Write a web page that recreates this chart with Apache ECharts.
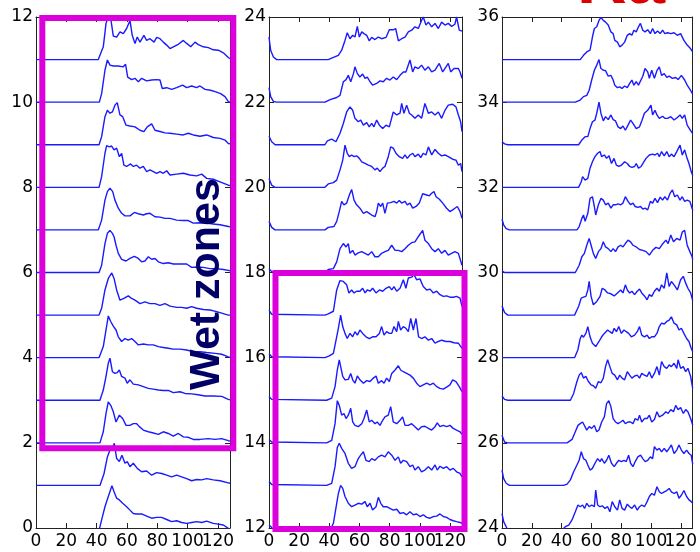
<!DOCTYPE html>
<html>
<head>
<meta charset="utf-8">
<script src="https://cdn.jsdelivr.net/npm/echarts@6/dist/echarts.min.js"></script>
<style>
  html, body { margin: 0; padding: 0; background: #fff; }
  #chart { width: 700px; height: 552px; }
</style>
</head>
<body>
<div id="chart"></div>
<script>
// Stacked profiles: each trace is [position, signal above its own offset line]
const xTicks = [0, 20, 40, 60, 80, 100, 120];
const xMax = 128;
const panelRanges = [[0, 12], [12, 24], [24, 36]];

// ---- left column (offsets 0..11) ----
const t0 = [[0,-0.05],[41.5,-0.05],[42.2,0.03],[43.3,0.19],[45.5,0.5],[47.7,0.74],[48.8,0.77],[50.1,0.99],[51.5,0.85],[53.2,0.7],[55,0.66],[57.2,0.58],[59.8,0.5],[62,0.42],[64.2,0.34],[66.4,0.33],[69.7,0.33],[73,0.28],[76.3,0.23],[79.6,0.25],[82.9,0.25],[86.2,0.2],[89.5,0.15],[92.8,0.17],[96.1,0.13],[99.4,0.11],[102.7,0.13],[106,0.15],[109.3,0.13],[112.6,0.16],[117,0.11],[120.3,0.09],[123.6,0.07],[126.9,-0.01],[128,-0.03]];
const t1 = [[0,0],[42.2,0],[44.9,0.28],[47.1,0.67],[48.8,0.83],[50.6,0.89],[51.7,0.99],[53.2,0.63],[55,0.56],[56.7,0.71],[58.7,0.52],[60.2,0.56],[62,0.44],[64.2,0.52],[66.8,0.4],[69.7,0.32],[73,0.34],[76.3,0.24],[79.6,0.3],[82.9,0.28],[86.2,0.24],[89.5,0.2],[92.8,0.24],[96.1,0.2],[99.4,0.16],[102.7,0.11],[106,0.14],[109.3,0.13],[112.6,0.16],[117,0.13],[121.4,0.11],[126.9,0.06],[128,0.05]];
const t2 = [[0,0],[42.2,0],[44.4,0.26],[46.2,0.69],[47.7,0.96],[49.3,0.88],[51,0.73],[52.8,0.49],[55,0.65],[57.2,0.57],[59.4,0.41],[62,0.41],[64.2,0.45],[66.4,0.45],[68.2,0.38],[70.8,0.3],[74.1,0.26],[77.4,0.23],[80.7,0.2],[84,0.26],[87.3,0.22],[90.6,0.16],[93.9,0.22],[97.2,0.14],[100.5,0.13],[103.8,0.08],[108.2,0.08],[113.7,0.1],[118.1,0.08],[122.5,0.1],[126.9,0.05],[128,0.04]];
const t3 = [[0,0],[42.2,0],[44.4,0.24],[46.2,0.56],[47.7,0.87],[48.8,0.99],[50.4,0.67],[52.1,0.63],[53.6,0.65],[55,0.71],[56.5,0.56],[58.7,0.52],[60.2,0.4],[62,0.48],[64.2,0.38],[67.5,0.36],[70.8,0.32],[74.1,0.28],[77.4,0.26],[80.7,0.24],[84,0.23],[87.3,0.23],[90.6,0.18],[95,0.2],[98.3,0.16],[102.7,0.15],[106.9,0.13],[111.5,0.1],[117,0.1],[122.5,0.09],[126.9,0.02],[128,0.01]];
const t4 = [[0,0],[41.6,0],[44.4,0.26],[46.2,0.65],[47.7,0.98],[49.3,0.85],[51,0.74],[52.8,0.65],[54.3,0.49],[56.5,0.38],[58.7,0.45],[60.9,0.41],[63.1,0.45],[65.3,0.38],[67.5,0.3],[70.8,0.32],[74.1,0.3],[77.4,0.3],[80.7,0.26],[84,0.24],[87.3,0.22],[90.6,0.2],[95,0.2],[99.4,0.18],[103.8,0.14],[108.2,0.14],[112.6,0.12],[118.1,0.1],[122.5,0.08],[126.9,0.02],[128,0.01]];
const t5 = [[0,0],[41.6,0],[43.3,0.16],[45.5,0.59],[47.7,0.86],[50,0.99],[51.5,0.86],[53.2,0.59],[55.4,0.35],[58,0.39],[60.9,0.45],[63.1,0.39],[65.3,0.35],[68.6,0.27],[71.9,0.31],[75.2,0.27],[78.5,0.27],[81.8,0.23],[85.1,0.27],[88.4,0.21],[92.8,0.18],[96.1,0.18],[99.4,0.16],[102.7,0.2],[106,0.16],[110.4,0.13],[114.8,0.12],[119.2,0.08],[126.9,0],[128,0]];
const t6 = [[0,0],[41.6,0],[43.3,0.17],[45.5,0.68],[47.1,0.92],[48.8,0.99],[50.4,0.92],[51.5,0.84],[52.8,0.64],[54.3,0.45],[56.5,0.31],[59.4,0.27],[62,0.33],[64.9,0.38],[67.5,0.33],[69.7,0.25],[71.9,0.27],[74.1,0.37],[76.3,0.31],[78.5,0.33],[80.7,0.25],[84,0.21],[87.3,0.23],[90.6,0.2],[95,0.2],[99.4,0.2],[102.7,0.12],[106,0.13],[110.4,0.12],[114.8,0.09],[119.2,0.09],[123.6,0.07],[126.9,0.05],[128,0.04]];
const t7 = [[0,0],[41.1,0],[43.3,0.23],[45.5,0.7],[47.1,0.9],[48.8,0.98],[50.6,0.9],[52.1,0.7],[54.3,0.51],[56.5,0.39],[58.7,0.33],[62,0.33],[64.9,0.41],[67.5,0.38],[70.8,0.35],[73,0.38],[75.2,0.39],[78.5,0.31],[81.8,0.3],[85.1,0.27],[88.4,0.27],[92.8,0.23],[97.2,0.22],[100.5,0.22],[103.8,0.16],[108.2,0.17],[112.6,0.16],[117,0.14],[121.4,0.12],[126.9,0.08],[128,0.07]];
const t8 = [[0,0],[41.6,0],[43.3,0.25],[45.5,0.8],[46.6,0.98],[48.4,0.95],[49.9,0.97],[51.5,0.88],[53.2,0.92],[55,0.72],[56.5,0.8],[58,0.52],[59.8,0.49],[62.4,0.55],[64.2,0.49],[66.4,0.52],[68.6,0.45],[70.8,0.49],[73,0.37],[75.2,0.41],[77.4,0.37],[79.6,0.33],[81.8,0.37],[84,0.33],[86.2,0.39],[88.4,0.29],[92.8,0.31],[97.2,0.33],[101.6,0.29],[106,0.27],[109.3,0.31],[112.6,0.21],[117,0.19],[121.4,0.13],[126.9,0.05],[128,0.04]];
const t9 = [[0,0],[41.6,0],[43.3,0.19],[45.5,0.66],[47.1,0.81],[48.8,0.74],[50.4,0.77],[52.1,0.93],[53.6,0.99],[55.4,0.7],[57.2,0.66],[59.4,0.46],[62,0.44],[65.3,0.42],[68.6,0.34],[71.2,0.31],[73.4,0.42],[76.3,0.49],[78.5,0.34],[81.8,0.31],[85.1,0.28],[88.4,0.27],[92.8,0.25],[97.2,0.23],[100.5,0.27],[103.8,0.23],[108.2,0.2],[112.6,0.23],[117,0.17],[121.4,0.15],[124.7,0.11],[126.9,0.03],[128,0.02]];
const t10 = [[0,0],[41.8,0],[43.3,0.2],[45.5,0.75],[47.1,0.99],[48.8,0.87],[51,0.85],[54.3,0.85],[57.6,0.83],[59.1,0.89],[60.5,0.59],[63.1,0.53],[65.3,0.56],[67.5,0.48],[69.7,0.56],[73,0.5],[76.3,0.52],[79.6,0.53],[81.8,0.52],[83.3,0.32],[86.2,0.34],[89.5,0.3],[92.8,0.34],[96.7,0.4],[99.4,0.34],[102.7,0.38],[106,0.34],[108.2,0.38],[111.5,0.3],[115.2,0.28],[118.7,0.24],[121.8,0.2],[124.7,0.13],[126.9,0.01],[128,0]];
const t11 = [[0,0],[41.1,0],[44.4,0.3],[46.2,0.85],[47.7,1.0],[49.5,0.92],[51,0.55],[53.2,0.53],[55.4,0.65],[57.6,0.61],[59.8,0.73],[62,0.92],[63.5,0.57],[65.3,0.38],[66.8,0.53],[68.6,0.41],[71.2,0.57],[73,0.45],[75.2,0.49],[77.9,0.41],[79.6,0.52],[81.8,0.49],[84,0.41],[86.2,0.34],[88.4,0.26],[90.6,0.3],[93.9,0.36],[97.2,0.45],[99.4,0.38],[102.1,0.3],[104.9,0.41],[107.1,0.35],[110.4,0.3],[113.7,0.28],[117,0.23],[120.3,0.22],[123.6,0.16],[126.9,0.05],[128,0.02]];

// ---- middle column (offsets 12..23) ----
const t12 = [[0,0.07],[1.8,0.01],[2.9,-0.05],[40.5,-0.05],[42.7,0.11],[44.9,0.58],[46,0.81],[47.5,1.0],[48.9,0.93],[50.4,0.74],[52.6,0.58],[54.8,0.5],[57,0.54],[59.2,0.58],[61.5,0.56],[63.7,0.62],[65.2,0.5],[67,0.58],[68.7,0.42],[71,0.5],[72.5,0.72],[74.1,0.58],[75.8,0.5],[78,0.5],[80.2,0.46],[82.4,0.42],[84.7,0.44],[86.9,0.34],[89.1,0.36],[91.3,0.31],[93.5,0.38],[95.7,0.31],[97.9,0.33],[100.1,0.27],[102.3,0.31],[104.6,0.25],[106.8,0.23],[109,0.27],[111.2,0.28],[113.4,0.33],[115.6,0.27],[117.8,0.25],[120,0.2],[122.2,0.17],[124.4,0.15],[126.7,0.13],[128,0.11]];
const t13 = [[0,0.09],[1.8,0.02],[2.9,0],[38.2,0],[41.6,0.05],[43.8,0.44],[45.3,0.89],[46.6,0.99],[48.2,0.87],[50.4,0.75],[52.6,0.52],[54.8,0.4],[57,0.44],[59.2,0.63],[60.8,0.71],[62.6,0.79],[64.3,0.59],[66.5,0.56],[68.1,0.63],[70.3,0.59],[72.5,0.67],[74.7,0.71],[76.9,0.67],[79.1,0.79],[81.4,0.71],[83.6,0.59],[85.8,0.67],[87.3,0.52],[89.1,0.59],[91.3,0.56],[93.5,0.44],[95.3,0.48],[96.8,0.36],[99,0.44],[101.2,0.32],[103.4,0.36],[105.7,0.44],[107.9,0.36],[110.1,0.48],[111.6,0.36],[113.4,0.45],[115.6,0.4],[117.8,0.44],[120,0.36],[122.2,0.4],[124.4,0.32],[126.7,0.28],[128,0.2]];
const t14 = [[0,0.08],[1.8,0.02],[2.9,0],[38.2,0],[41.6,0.06],[43.8,0.45],[45.3,0.99],[46.6,0.88],[48.2,0.65],[49.7,0.69],[51.1,0.57],[52.6,0.65],[54.2,0.81],[55.5,0.49],[57,0.41],[59.2,0.38],[61.5,0.45],[63,0.57],[64.8,0.77],[66.5,0.49],[68.1,0.53],[70.3,0.45],[71.8,0.49],[73.6,0.41],[75.4,0.53],[76.9,0.61],[79.1,0.65],[80.7,0.85],[82.4,0.49],[84.7,0.45],[86.9,0.53],[88.6,0.61],[90.2,0.41],[92.4,0.41],[94.6,0.45],[96.8,0.38],[99,0.3],[101.2,0.38],[103.4,0.39],[105.7,0.34],[107.9,0.3],[110.1,0.38],[111.6,0.47],[113.4,0.38],[115.6,0.41],[117.8,0.38],[120,0.41],[122.2,0.34],[124.4,0.3],[126.7,0.26],[128,0.2]];
const t15 = [[0,0.09],[1.8,0.02],[2.9,0],[38.2,0],[41.6,0.05],[43.8,0.32],[45.3,0.71],[46.6,0.95],[47.5,0.91],[48.9,0.56],[50.4,0.48],[52.6,0.49],[54.2,0.63],[55.5,0.48],[57,0.4],[58.6,0.57],[60.3,0.48],[62.6,0.4],[64.8,0.46],[67,0.44],[69.2,0.52],[71,0.57],[72.5,0.4],[74.7,0.46],[76.3,0.4],[78,0.52],[79.8,0.44],[81.4,0.63],[83.6,0.71],[85.8,0.81],[87.3,0.71],[89.1,0.67],[91.3,0.63],[93.5,0.59],[95.7,0.52],[97.9,0.4],[100.1,0.32],[102.3,0.36],[104.6,0.4],[106.8,0.36],[109,0.4],[111.2,0.32],[113.4,0.28],[115.6,0.26],[117.8,0.31],[120,0.36],[121.8,0.48],[124,0.44],[126.2,0.32],[128,0.2]];
const t16 = [[0,0.09],[1.8,0.02],[2.9,0],[37.1,0],[40,0.04],[42.7,0.1],[44.9,0.49],[46.2,0.73],[47.5,1.0],[48.9,0.73],[50.4,0.57],[51.9,0.45],[53.7,0.57],[55.5,0.49],[57,0.61],[58.6,0.53],[60.3,0.65],[62.1,0.57],[64.3,0.49],[66.5,0.45],[68.7,0.49],[71,0.49],[73.2,0.57],[74.7,0.73],[76.3,0.53],[78,0.61],[79.8,0.57],[81.4,0.57],[82.9,0.73],[84.7,0.61],[85.8,0.85],[87.3,0.65],[89.1,0.73],[90.8,0.69],[92.4,0.61],[94,0.92],[95.7,0.65],[97.5,0.92],[99.2,0.49],[101.2,0.45],[103.4,0.49],[105.7,0.41],[107.9,0.45],[110.1,0.34],[112.3,0.38],[114.5,0.41],[117.4,0.38],[120,0.38],[122.7,0.35],[125.6,0.34],[128,0.22]];
const t17 = [[0,0.11],[1.8,0.02],[2.9,0],[37.1,0],[39.3,0.03],[42.7,0.09],[44.9,0.59],[47.1,0.81],[49.3,0.79],[51.5,0.71],[53,0.52],[54.8,0.59],[56.4,0.52],[58.1,0.56],[60.3,0.56],[62.1,0.63],[63.7,0.52],[65.2,0.59],[67,0.56],[68.7,0.63],[71,0.52],[73.2,0.59],[75.4,0.56],[77.6,0.63],[79.8,0.67],[81.4,0.59],[82.9,0.67],[84.7,0.56],[86.9,0.63],[89.1,0.83],[90.8,0.63],[92.4,0.87],[94.6,0.89],[96.2,0.95],[97.9,0.83],[100.1,0.85],[102.3,0.67],[104.6,0.59],[106.8,0.61],[109,0.52],[111.2,0.56],[113.4,0.48],[115.6,0.44],[117.8,0.45],[120,0.42],[122.2,0.42],[124.4,0.44],[126.7,0.4],[128,0.2]];
const t18 = [[0,0.09],[1.8,0.02],[2.9,0],[37.1,0],[39.3,0.07],[42.7,0.09],[44.9,0.25],[47.1,0.56],[49.3,0.68],[51.1,0.6],[52.6,0.68],[53.7,0.45],[55.5,0.52],[57,0.41],[59.2,0.46],[61.5,0.49],[63.7,0.45],[65.9,0.41],[68.1,0.49],[70.3,0.37],[72.5,0.37],[74.7,0.45],[76.9,0.49],[79.1,0.52],[81.4,0.64],[83.6,0.52],[85.8,0.52],[88,0.49],[90.2,0.56],[92.4,0.64],[94.6,0.7],[96.8,0.72],[99,0.84],[100.1,0.8],[101.9,0.99],[103.4,0.76],[105.7,0.68],[107.9,0.56],[110.1,0.49],[112.3,0.56],[114.5,0.45],[116.7,0.52],[118.9,0.41],[121.1,0.45],[123.3,0.49],[125.6,0.45],[128,0.17]];
const t19 = [[0,0.2],[1.8,0.06],[4,0],[37.1,0],[39.3,0.06],[43.1,0.08],[44.9,0.2],[46.6,0.43],[48.2,0.67],[49.7,0.59],[51.5,0.63],[53.3,0.82],[54.8,0.95],[56.4,0.7],[58.1,0.59],[60.3,0.51],[62.6,0.39],[64.8,0.43],[66.5,0.39],[68.1,0.35],[70.3,0.31],[71.4,0.43],[72.5,0.63],[74.1,0.55],[75.4,0.63],[76.9,0.39],[78.5,0.63],[80.7,0.64],[82.9,0.67],[84.7,0.63],[86.4,0.69],[88,0.63],[90.2,0.67],[91.7,0.59],[93.5,0.63],[95.3,0.51],[97.5,0.55],[99.7,0.63],[101.9,0.85],[104.6,0.82],[106.3,0.8],[107.9,0.86],[109.4,0.9],[110.8,0.78],[113,0.72],[115.2,0.63],[117.8,0.51],[120,0.43],[121.8,0.47],[123.3,0.51],[124.9,0.55],[126.7,0.43],[128,0.27]];
const t20 = [[0,0.21],[1.8,0.05],[4,0],[37.1,0],[39.3,0.08],[42.7,0.11],[44.9,0.17],[47.1,0.41],[48.9,0.64],[50.4,0.99],[51.9,0.8],[53.3,0.72],[54.8,0.76],[56.4,0.72],[58.1,0.74],[59.9,0.68],[61.5,0.6],[63.7,0.56],[65.9,0.52],[68.1,0.49],[70.3,0.41],[71.8,0.45],[73.6,0.37],[75.4,0.45],[76.9,0.49],[79.1,0.72],[80.7,0.95],[82.4,0.92],[84.2,0.8],[86.4,0.72],[88.6,0.68],[90.2,0.76],[91.7,0.68],[93.5,0.76],[95.3,0.8],[96.8,0.72],[99,0.78],[100.6,0.7],[102.3,0.8],[104.1,0.76],[105.7,0.95],[107.9,0.76],[110.1,0.89],[112.3,0.8],[114.5,0.74],[116.7,0.76],[118.9,0.72],[121.8,0.66],[124,0.64],[125.6,0.52],[127.1,0.56],[128,0.37]];
const t21 = [[0,0.2],[1.8,0.07],[4,0],[37.1,0],[38.7,0.09],[41.6,0.13],[44.4,0.07],[47.1,0.27],[49.3,0.5],[51.5,0.77],[53.7,0.89],[55.5,0.81],[57,0.62],[59.2,0.54],[60.8,0.58],[62.6,0.46],[64.8,0.52],[66.5,0.42],[68.1,0.5],[69.6,0.42],[71.4,0.58],[73.2,0.46],[75.4,0.38],[77.6,0.46],[79.8,0.42],[82.4,0.77],[84.7,0.7],[86.9,0.74],[88,0.97],[89.5,0.74],[91.3,0.93],[93.1,0.74],[94.6,0.7],[96.8,0.62],[99,0.7],[101.2,0.62],[103.4,0.97],[105.7,0.74],[107.9,0.77],[110.1,0.7],[112.3,0.77],[114.5,0.62],[116.7,0.81],[118.9,0.93],[121.8,0.95],[124,0.89],[125.6,0.7],[127.1,0.54],[128,0.31]];
const t22 = [[0,0.34],[1.1,0.13],[2.9,0.02],[5.1,0],[37.1,0],[40.5,0.06],[44.9,0.11],[47.1,0.16],[49.3,0.48],[51.1,0.53],[52.6,0.63],[54.2,0.48],[56,0.67],[57,0.83],[58.6,0.67],[60.3,0.59],[62.1,0.66],[63.7,0.56],[65.2,0.59],[67,0.48],[68.7,0.4],[71.4,0.44],[73.6,0.5],[75.8,0.48],[78,0.56],[80.2,0.52],[82.4,0.59],[84.7,0.53],[86.9,0.63],[89.1,0.71],[90.8,0.71],[93.5,0.99],[95.3,0.71],[96.8,0.83],[99,0.79],[101.2,0.87],[103.4,0.75],[105.7,0.83],[107.9,0.71],[110.1,0.75],[112.9,0.91],[115.2,0.71],[117.4,0.83],[118.9,0.91],[120.5,0.71],[122.7,0.79],[125.6,0.79],[126.7,0.71],[128,0.56]];
const t23 = [[0,0.53],[1.1,0.22],[2.9,0.06],[5.1,0],[39.3,0],[42.7,0.05],[46,0.1],[48.2,0.22],[50.4,0.45],[51.9,0.63],[53.7,0.49],[55.5,0.57],[57,0.53],[58.6,0.78],[59.9,0.53],[61.5,0.65],[63,0.61],[64.8,0.57],[66.5,0.44],[68.1,0.52],[70.3,0.47],[72.5,0.53],[74.7,0.49],[77.6,0.52],[79.8,0.7],[82.4,0.7],[84,0.73],[85.8,0.44],[88,0.49],[90.2,0.53],[92.4,0.65],[94.6,0.69],[96.8,0.77],[99,0.73],[101.2,0.92],[102.3,1.0],[104.1,0.81],[105.7,0.88],[107.9,0.77],[110.1,0.85],[112.3,0.73],[114.5,0.88],[116.7,0.81],[118.9,0.85],[121.1,0.78],[123.3,0.83],[124.4,1.0],[126.2,0.69],[128,0.67]];

// ---- right column (offsets 24..35) ----
const t24 = [[0,0.34],[1.1,0.15],[2.8,0.03],[3.9,-0.05],[40.3,-0.05],[42.5,0.03],[44.8,0.07],[47,0.19],[49.2,0.38],[51,0.54],[52.5,0.5],[54.1,0.54],[55.4,0.46],[56.9,0.58],[58.5,0.5],[60.2,0.54],[62,0.5],[62.9,0.89],[64.2,0.54],[65.8,0.5],[67.3,0.52],[69.1,0.46],[70.9,0.5],[72.4,0.38],[74,0.62],[75.7,0.5],[77.5,0.42],[79,0.66],[80.6,0.46],[82.3,0.42],[84.1,0.56],[85.7,0.5],[87.2,0.46],[89,0.54],[90.8,0.42],[92.3,0.5],[93.8,0.54],[95.6,0.5],[97.4,0.62],[98.9,0.74],[100.5,0.81],[102.3,0.77],[104,0.97],[105.6,0.85],[107.1,0.81],[108.9,0.85],[110.6,0.88],[112.2,0.93],[113.7,0.85],[115.5,0.81],[117.3,0.85],[118.8,0.7],[120.4,0.77],[122.1,0.88],[123.9,0.74],[125.5,0.66],[127,0.62],[128,0.58]];
const t25 = [[0,0.36],[1.1,0.16],[2.8,0.05],[5,0],[41.4,0],[43.7,0.03],[45.9,0.13],[48.1,0.32],[50.3,0.48],[51.8,0.59],[53.2,0.79],[54.7,0.63],[56.3,0.59],[57.6,0.48],[59.1,0.36],[60.7,0.4],[62.4,0.52],[64.2,0.63],[65.8,0.56],[66.9,0.63],[68.7,0.52],[70.2,0.59],[71.7,0.71],[73.5,0.52],[75.3,0.44],[76.8,0.52],[78.4,0.59],[80.1,0.56],[81.9,0.59],[83.4,0.56],[85,0.71],[86.3,0.52],[87.9,0.44],[89.4,0.56],[91.2,0.67],[93,0.71],[94.5,0.63],[96.1,0.56],[97.8,0.59],[99.6,0.67],[101.1,0.63],[102.3,0.91],[104,0.83],[105.6,0.87],[107.1,0.79],[108.9,0.87],[110.6,0.79],[112.2,0.87],[113.7,0.95],[115.5,0.75],[117.3,0.83],[118.8,0.95],[120.4,0.83],[122.1,0.75],[123.9,0.83],[125.5,0.75],[127,0.71],[128,0.5]];
const t26 = [[0,0.18],[1.7,0.02],[3.9,0],[43.7,0],[47,0.08],[49.2,0.26],[51,0.41],[52.5,0.45],[54.1,0.49],[55.4,0.53],[56.9,0.3],[58.5,0.38],[60.2,0.34],[62,0.41],[63.6,0.26],[65.1,0.3],[66.9,0.49],[68.7,0.61],[70.2,0.92],[71.7,0.99],[73.1,0.85],[74.6,0.57],[76.2,0.49],[77.9,0.45],[79.7,0.49],[81.2,0.53],[82.8,0.45],[84.6,0.49],[86.3,0.49],[87.9,0.45],[89.4,0.57],[91.2,0.53],[92.3,0.65],[93.8,0.49],[95.6,0.57],[97.4,0.57],[98.9,0.65],[100.5,0.49],[102.3,0.55],[104,0.73],[105.6,0.61],[107.8,0.65],[110,0.73],[111.5,0.69],[113.3,0.78],[115.1,0.73],[116.6,0.88],[118.2,0.78],[119.9,0.83],[121.7,0.69],[123.3,0.78],[124.8,0.73],[126.6,0.57],[128,0.42]];
const t27 = [[0,0.1],[1.7,0.02],[3.9,0],[45.9,0],[48.1,0.16],[50.3,0.44],[51.8,0.59],[53.2,0.65],[54.7,0.52],[56.3,0.56],[58,0.44],[59.8,0.36],[61.3,0.34],[62.9,0.28],[64.7,0.44],[66.4,0.41],[68,0.52],[69.5,0.79],[70.9,0.95],[72.4,0.79],[74,0.63],[75.7,0.59],[77.5,0.48],[79,0.59],[80.6,0.52],[82.3,0.48],[84.1,0.67],[85.7,0.59],[87.2,0.52],[89,0.57],[90.8,0.59],[92.3,0.52],[93.8,0.63],[95.6,0.59],[97.4,0.56],[98.9,0.67],[100.5,0.52],[102.3,0.63],[104,0.79],[105.6,0.59],[107.1,0.91],[108.9,0.79],[110.6,0.75],[112.2,0.83],[113.7,0.79],[115.5,0.87],[117.3,0.75],[118.2,0.95],[119.9,0.75],[121.7,0.79],[123.3,0.67],[124.8,0.75],[126.6,0.56],[128,0.28]];
const t28 = [[0,0],[48.7,0],[50.9,0.18],[52.5,0.45],[53.6,0.53],[54.7,0.48],[56.3,0.57],[57.6,0.73],[59.1,0.49],[60.7,0.34],[62.9,0.26],[65.1,0.38],[66.9,0.49],[68.7,0.57],[70.9,0.65],[72.4,0.61],[74,0.57],[75.3,0.69],[76.8,0.61],[78.4,0.73],[80.1,0.57],[81.9,0.65],[83.4,0.61],[85,0.57],[86.8,0.49],[89,0.53],[90.8,0.61],[92.3,0.73],[93.8,0.53],[95.6,0.49],[97.4,0.53],[98.9,0.45],[100.5,0.49],[102.3,0.49],[104,0.57],[105.6,0.73],[107.1,0.81],[108.9,0.79],[110.6,0.85],[112.2,0.88],[113.7,0.96],[115.5,0.81],[117.3,0.77],[118.8,0.65],[120.4,0.69],[122.1,0.57],[123.9,0.45],[125.5,0.38],[127,0.22],[128,0.14]];
const t29 = [[0,0.22],[1.7,0.06],[3.9,0],[48.7,0],[51.4,0.2],[53.2,0.4],[54.7,0.42],[56.3,0.44],[57.6,0.59],[58.5,0.79],[59.8,0.44],[61.3,0.24],[63.6,0.32],[65.8,0.44],[67.3,0.63],[69.1,0.59],[70.9,0.52],[73.1,0.5],[75.3,0.45],[77.5,0.52],[79.7,0.59],[81.2,0.52],[82.8,0.71],[84.1,0.59],[85.7,0.52],[87.2,0.56],[89,0.48],[90.8,0.56],[92.3,0.61],[93.8,0.52],[95.6,0.45],[97.4,0.36],[98.9,0.48],[100.5,0.44],[102.3,0.56],[104,0.63],[105.6,0.56],[107.1,0.71],[108.9,0.63],[110.6,0.99],[112.2,0.67],[113.7,0.79],[115.5,0.71],[117.7,0.59],[119.9,0.83],[121.7,0.91],[123.3,0.75],[124.8,0.63],[126.6,0.52],[128,0.34]];
const t30 = [[0,0.04],[1.7,0],[49.2,0],[51.8,0.17],[53.6,0.37],[55.3,0.45],[56.9,0.64],[58.5,0.8],[59.8,0.64],[61.3,0.45],[62.9,0.33],[64.7,0.49],[66.4,0.56],[68,0.72],[69.5,0.6],[71.3,0.56],[73.1,0.49],[74.6,0.56],[76.2,0.49],[77.9,0.6],[79.7,0.64],[81.2,0.6],[82.8,0.68],[84.6,0.76],[86.3,0.72],[87.9,0.64],[90.1,0.6],[92.3,0.54],[94.5,0.52],[96.7,0.49],[98.9,0.41],[101.1,0.52],[103.3,0.59],[105.6,0.56],[107.8,0.67],[110,0.76],[111.5,0.68],[113.3,0.88],[115.1,0.72],[117.3,0.8],[119.5,0.76],[121,0.95],[122.6,0.99],[124.3,0.64],[126.1,0.49],[127.6,0.37],[128,0.3]];
const t31 = [[0,0.25],[1.1,0.12],[2.8,0.03],[5,0],[50.3,0],[51.8,0.08],[53.6,0.27],[54.7,0.35],[55.8,0.2],[57.6,0.39],[59.1,0.74],[60.7,0.78],[62,0.55],[62.9,0.35],[64.7,0.59],[66.4,0.74],[68,0.7],[69.5,0.59],[71.3,0.63],[73.1,0.51],[74.6,0.59],[76.2,0.59],[77.9,0.61],[79.7,0.59],[81.2,0.63],[82.8,0.78],[84.6,0.67],[86.3,0.59],[87.9,0.63],[89.4,0.55],[91.2,0.53],[93,0.55],[94.5,0.49],[96.1,0.51],[97.8,0.47],[99.6,0.67],[101.1,0.63],[102.7,0.74],[104.4,0.64],[106.2,0.77],[107.8,0.7],[109.3,0.78],[111.1,0.7],[112.8,0.86],[114.4,0.94],[115.9,0.78],[117.7,0.82],[119.5,0.7],[121,0.78],[122.6,0.67],[124.3,0.7],[126.1,0.67],[127.6,0.51],[128,0.46]];
const t32 = [[0,0],[51.4,0],[53.2,0.13],[54.1,0.25],[55.8,0.17],[57.6,0.21],[59.1,0.45],[60.7,0.6],[62.4,0.72],[64.2,0.8],[65.8,0.84],[66.9,0.72],[68.7,0.76],[70.2,0.68],[71.8,0.74],[73.5,0.56],[75.2,0.68],[76.8,0.52],[78.4,0.49],[80.1,0.52],[82.3,0.6],[84.1,0.56],[85.7,0.49],[87.2,0.47],[89,0.49],[90.1,0.56],[91.6,0.45],[93.4,0.49],[95.2,0.6],[96.7,0.68],[98.9,0.76],[101.1,0.78],[102.7,0.76],[104.4,0.8],[105.6,0.72],[107.1,0.84],[108.9,0.74],[110.6,0.84],[112.2,0.72],[113.7,0.78],[115.5,0.72],[117.3,0.84],[119.5,0.99],[121,0.76],[122.6,0.88],[123.9,0.72],[125.5,0.56],[127,0.37],[128,0.28]];
const t33 = [[0,0.07],[1.7,0.02],[3.9,0],[51.4,0],[53.6,0.11],[55.8,0.19],[57.6,0.19],[59.1,0.38],[60.7,0.54],[62.4,0.58],[63.6,0.74],[65.1,1.0],[66.4,0.74],[68,0.56],[69.5,0.66],[71.3,0.59],[73.1,0.7],[74.6,0.59],[76.2,0.56],[77.9,0.42],[79.7,0.38],[81.2,0.44],[82.8,0.34],[84.6,0.46],[86.3,0.58],[87.9,0.5],[90.1,0.38],[92.3,0.42],[93.8,0.56],[95.6,0.74],[97.8,0.81],[100,0.93],[101.1,0.7],[102.7,0.81],[104,0.7],[105.6,0.62],[107.8,0.67],[109.3,0.62],[111.1,0.62],[113.3,0.66],[115.5,0.58],[117.7,0.64],[119.5,0.7],[121,0.62],[122.6,0.7],[124.3,0.46],[126.5,0.34],[128,0.26]];
const t34 = [[0,0],[49.2,0],[52.5,0.05],[54.7,0.13],[56.9,0.16],[58.5,0.28],[60.2,0.52],[62,0.75],[63.6,0.87],[65.1,1.0],[66.4,0.79],[68,0.75],[69.5,0.74],[71.3,0.61],[73.1,0.63],[74.6,0.52],[75.7,0.4],[77.5,0.34],[79,0.36],[80.6,0.32],[82.3,0.38],[84.1,0.34],[85.7,0.44],[87.2,0.52],[88.5,0.4],[90.1,0.48],[91.6,0.4],[92.9,0.44],[94.5,0.61],[96,0.79],[97.8,0.71],[98.9,0.56],[100.5,0.75],[102.3,0.56],[104,0.74],[105.6,0.83],[107.1,0.63],[108.9,0.67],[110.6,0.58],[112.2,0.61],[114.4,0.56],[116.6,0.58],[118.2,0.53],[120.4,0.63],[122.6,0.52],[124.3,0.4],[126.5,0.28],[128,0.19]];
const t35 = [[0,0],[52.5,0],[54.7,0.1],[56.9,0.18],[59.1,0.22],[60.7,0.53],[62,0.73],[63.6,0.77],[65.1,0.92],[66.4,0.99],[68,0.92],[69.5,0.88],[71.3,0.81],[73.1,0.65],[74.6,0.61],[75.7,0.45],[77.5,0.41],[79,0.3],[80.6,0.34],[82.3,0.41],[84.1,0.57],[85.7,0.61],[87.2,0.57],[88.5,0.69],[90.1,0.65],[91.6,0.77],[92.9,0.85],[94.5,0.69],[96,0.65],[97.8,0.7],[99.6,0.61],[101.1,0.73],[102.7,0.61],[104.4,0.67],[106.2,0.61],[107.8,0.69],[109.3,0.61],[111.1,0.63],[113.3,0.61],[115.5,0.63],[117.7,0.57],[119.9,0.61],[122.1,0.45],[124.3,0.34],[126.5,0.26],[128,0.18]];

const traces = [t0,t1,t2,t3,t4,t5,t6,t7,t8,t9,t10,t11,t12,t13,t14,t15,t16,t17,t18,t19,t20,t21,t22,t23,t24,t25,t26,t27,t28,t29,t30,t31,t32,t33,t34,t35];
const offsets = [0,1,2,3,4,5,6,7,8,9,10,11,12,13,14,15,16,17,18,19,20,21,22,23,24,25,26,27,28,29,30,31,32,33,34,35];

const labelFont = { fontFamily: 'DejaVu Sans', fontSize: 17, color: '#000' };
const frameLine = { show: true, onZero: false, lineStyle: { color: '#222', width: 1 } };
const innerTick = { show: true, inside: true, length: 5, lineStyle: { color: '#222', width: 1 } };

const grids = [
  { left: 36, top: 17, width: 194, height: 511 },
  { left: 269, top: 17, width: 193, height: 511 },
  { left: 502, top: 17, width: 195, height: 511 }
];

const xAxes = [], yAxes = [];
panelRanges.forEach((r, g) => {
  xAxes.push({ type: 'value', gridIndex: g, position: 'bottom', min: 0, max: xMax, interval: xTicks[1] - xTicks[0],
    axisLine: frameLine, axisTick: innerTick, splitLine: { show: false },
    axisLabel: Object.assign({ margin: 5, showMaxLabel: false }, labelFont) });
  xAxes.push({ type: 'value', gridIndex: g, position: 'top', min: 0, max: xMax, interval: 20,
    axisLine: frameLine, axisTick: innerTick, splitLine: { show: false }, axisLabel: { show: false } });
  yAxes.push({ type: 'value', gridIndex: g, position: 'left', min: r[0], max: r[1], interval: 2,
    axisLine: frameLine, axisTick: innerTick, splitLine: { show: false },
    axisLabel: Object.assign({ margin: 3 }, labelFont) });
  yAxes.push({ type: 'value', gridIndex: g, position: 'right', min: r[0], max: r[1], interval: 2,
    axisLine: frameLine, axisTick: innerTick, splitLine: { show: false }, axisLabel: { show: false } });
});

const series = traces.map((tr, i) => {
  const g = Math.floor(offsets[i] / 12);
  return {
    type: 'line', xAxisIndex: g * 2, yAxisIndex: g * 2, showSymbol: false, symbol: 'none',
    lineStyle: { color: '#1a1aff', width: 1.4 }, clip: true, silent: true,
    data: tr.map(p => [p[0], offsets[i] + p[1]])
  };
});

const chart = echarts.init(document.getElementById('chart'), null, { renderer: 'canvas' });
chart.setOption({
  animation: false,
  backgroundColor: '#fff',
  grid: grids,
  xAxis: xAxes,
  yAxis: yAxes,
  series: series,
  graphic: [
    { type: 'rect', z: 100, shape: { x: 42.3, y: 18, width: 191, height: 430.3 },
      style: { fill: 'none', stroke: '#dc00dc', lineWidth: 6 } },
    { type: 'rect', z: 100, shape: { x: 275.5, y: 273, width: 189, height: 256 },
      style: { fill: 'none', stroke: '#dc00dc', lineWidth: 6 } },
    { type: 'text', z: 101, x: 207, y: 284, rotation: Math.PI / 2,
      style: { text: 'Wet zones', fontFamily: 'Liberation Sans', fontWeight: 'bold', fontSize: 43,
        fill: '#000066', align: 'center', verticalAlign: 'middle' } },
    { type: 'text', z: 101, x: 621, y: -16,
      style: { text: 'Ra', fontFamily: 'Liberation Sans', fontWeight: 'bold', fontSize: 69,
        fill: '#dd0000', align: 'center', verticalAlign: 'middle' } }
  ]
});
</script>
</body>
</html>
